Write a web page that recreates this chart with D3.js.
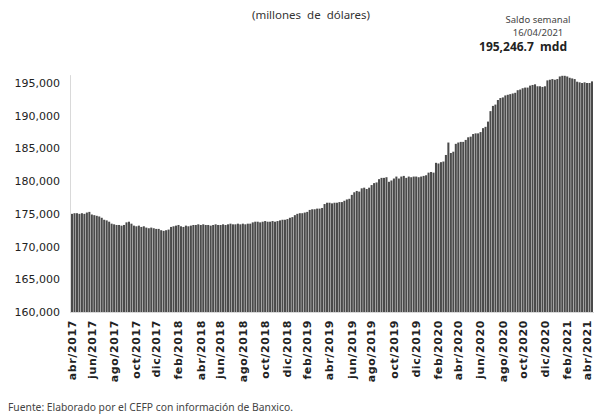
<!DOCTYPE html>
<html><head><meta charset="utf-8">
<script src="https://cdn.jsdelivr.net/npm/d3@7"></script>
<style>
html,body{margin:0;padding:0;background:#fff;}
svg{display:block;}
</style></head>
<body>
<svg id="chart" width="602" height="420"></svg>
<script>
// Weekly balance of international reserves (millions of USD), weekly from 07/04/2017 to 16/04/2021
const startDate = "2017-04-07";
const reserves = [
  175000,175100,175100,175000,175100,175000,175200,175300,
  174900,174800,174700,174600,174400,
  174100,174000,173800,
  173500,173400,173300,173300,173200,173300,
  173700,173800,
  173500,173200,173100,173200,173000,173100,
  172900,172800,172900,172800,172700,172700,
  172500,172400,172500,172600,
  173000,173100,173200,173300,173100,173000,173200,173100,173200,173300,173300,173400,173300,
  173400,173300,173300,173200,173300,173400,173300,173300,173400,173300,173400,173500,173400,173400,173500,173400,173500,173400,173500,173500,
  173700,173800,173800,173700,173800,173900,173800,173800,173900,173800,173900,174000,
  174100,174100,174200,
  174400,174500,
  174800,175000,175100,175100,175200,175300,
  175600,175700,175700,175800,175800,175900,
  176500,176700,176700,176600,176700,
  176700,176800,176800,177000,
  177200,177300,
  177900,178300,178500,178400,
  178900,179000,178800,179000,
  179400,179700,179800,
  180300,180500,180500,180600,
  179900,180100,180400,
  180700,180400,180700,180800,180500,180700,180600,180700,180700,180600,180700,180800,180900,
  181300,181400,181300,
  182800,182700,182900,183000,
  184000,185900,184300,184500,185700,185900,186000,186000,
  186300,186700,186800,
  187200,187300,187300,187500,
  188100,188300,
  189100,
  190700,
  191500,191700,
  192400,192700,192800,
  193100,193200,193300,193400,193500,
  193900,194000,194200,194300,194300,
  194600,194700,194800,
  194500,194500,194400,194500,
  195400,195500,195600,195500,195600,
  196000,196100,196100,196000,
  195800,195700,195600,
  195200,195100,195000,195100,195000,
  195000,195246.7
];
const yTicks = [160000,165000,170000,175000,180000,185000,190000,195000];
const monthNames = ["ene","feb","mar","abr","may","jun","jul","ago","sep","oct","nov","dic"];
const titleText = "(millones  de  dólares)";
const noteLines = ["Saldo semanal","16/04/2021","195,246.7  mdd"];
const sourceText = "Fuente: Elaborado por el CEFP con información de Banxico.";

const t0 = d3.timeParse("%Y-%m-%d")(startDate);
const weeks = reserves.map((v,i)=>({date:d3.timeDay.offset(t0, 7*i), value:v, key:i}));

const svg = d3.select("#chart");
const x = d3.scaleBand().domain(weeks.map(d=>d.key)).range([71,593]).paddingInner(0.18).paddingOuter(0);
const y = d3.scaleLinear().domain([160000,195000]).range([312,83]);

// bars
svg.append("g").selectAll("rect").data(weeks).join("rect")
  .attr("x", d=>x(d.key)).attr("width", x.bandwidth())
  .attr("y", d=>y(d.value)).attr("height", d=>y(160000)-y(d.value))
  .attr("fill", "#4a4a4a");

// y axis
const yAxis = d3.axisLeft(y).tickValues(yTicks).tickSize(0).tickPadding(10)
  .tickFormat(d3.format(",.0f"));
const gy = svg.append("g").attr("transform","translate(70,0)").call(yAxis);
gy.select(".domain").remove();
gy.selectAll("text").attr("font-family","DejaVu Sans, sans-serif").attr("font-size",11).attr("fill","#222");
svg.append("line").attr("x1",70.5).attr("x2",70.5).attr("y1",y(196200)).attr("y2",y(160000)).attr("stroke","#d9d9d9");
svg.append("line").attr("x1",70).attr("x2",594).attr("y1",y(160000)+0.5).attr("y2",y(160000)+0.5).attr("stroke","#d9d9d9");

// x axis labels: first week of every other month starting abr/2017
const tickWeeks = weeks.filter((d,i)=>{
  const m = d.date.getMonth();
  const prev = i>0 ? weeks[i-1].date.getMonth() : -1;
  return m!==prev && (m%2===1);
});
const xAxis = d3.axisBottom(x).tickValues(tickWeeks.map(d=>d.key)).tickSize(0).tickPadding(0)
  .tickFormat(k=>{const d=weeks[k].date; return monthNames[d.getMonth()]+"/"+d.getFullYear();});
const gx = svg.append("g").attr("transform","translate(0,318)").call(xAxis);
gx.select(".domain").remove();
gx.selectAll("text")
  .attr("font-family","DejaVu Sans, sans-serif").attr("font-size",11).attr("font-weight","bold")
  .attr("fill","#222").attr("letter-spacing","0.6px")
  .attr("text-anchor","end").attr("dy","0.35em").attr("dx",0)
  .attr("transform","rotate(-90)").attr("x",-2).attr("y",0);

// title
svg.append("text").attr("x",311).attr("y",19).attr("text-anchor","middle")
  .attr("font-family","Noto Sans, sans-serif").attr("font-size",11.5).attr("fill","#333")
  .style("white-space","pre").text(titleText);

// note
const note = svg.append("g").attr("font-family","Noto Sans, sans-serif").attr("text-anchor","middle");
note.append("text").attr("x",538).attr("y",23).attr("font-size",9.5).attr("fill","#444").text(noteLines[0]);
note.append("text").attr("x",538).attr("y",36).attr("font-size",9.5).attr("fill","#444").text(noteLines[1]);
note.append("text").attr("x",523).attr("y",51).attr("font-size",12).attr("font-weight","bold").attr("fill","#222")
  .style("white-space","pre").text(noteLines[2]);

// source
svg.append("text").attr("x",8).attr("y",411).attr("font-family","Noto Sans, sans-serif")
  .attr("font-size",10.3).attr("fill","#444").text(sourceText);
</script>
</body></html>
